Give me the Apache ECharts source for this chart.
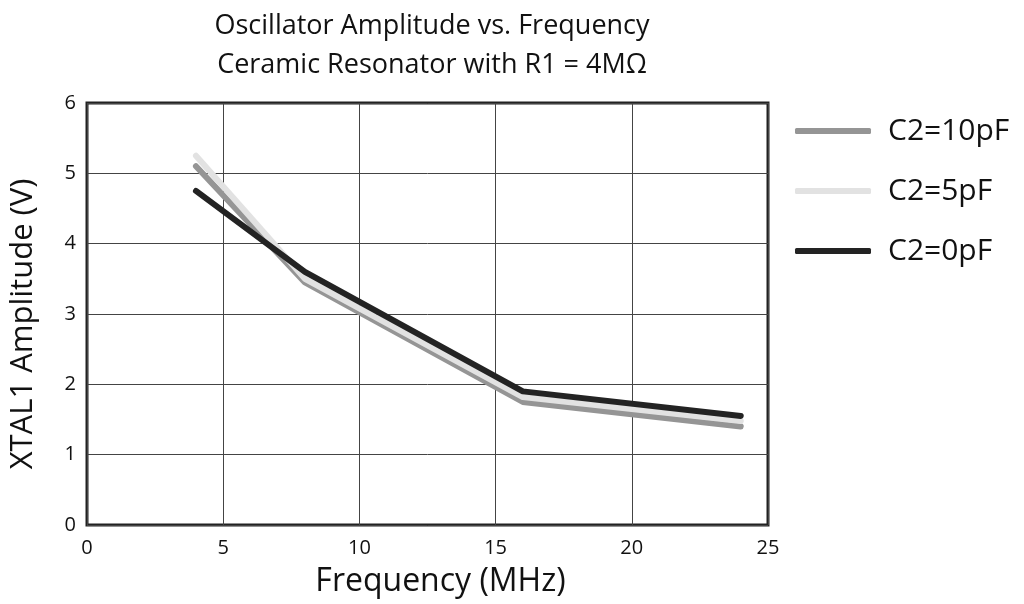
<!DOCTYPE html>
<html>
<head>
<meta charset="utf-8">
<script src="https://cdn.jsdelivr.net/npm/echarts@6/dist/echarts.min.js"></script>
<style>
html,body{margin:0;padding:0;background:#fff;}
#c{width:1024px;height:604px;}
</style>
</head>
<body>
<div id="c"></div>
<script>
var freq = [4, 8, 16, 24];
var c2_10pF = [5.1, 3.45, 1.75, 1.4];
var c2_5pF = [5.25, 3.5, 1.82, 1.48];
var c2_0pF = [4.75, 3.6, 1.9, 1.55];
var seriesNames = ['C2=10pF', 'C2=5pF', 'C2=0pF'];
var seriesColors = ['#959595', '#e2e2e2', '#232323'];
var xTicks = [0, 5, 10, 15, 20, 25];
var yTicks = [0, 1, 2, 3, 4, 5, 6];

function pairs(xs, ys){ return xs.map(function(x,i){ return [x, ys[i]]; }); }
var allData = [c2_10pF, c2_5pF, c2_0pF];

var font = '"Open Sans", "Noto Sans", sans-serif';
var chart = echarts.init(document.getElementById('c'), null, {renderer:'canvas'});
chart.setOption({
  animation:false,
  backgroundColor:'#fff',
  textStyle:{fontFamily:font},
  title:{
    text:'Oscillator Amplitude vs. Frequency\nCeramic Resonator with R1 = 4MΩ',
    left:427, top:2, textAlign:'center',
    textStyle:{fontFamily:font, fontSize:27, fontWeight:'normal', color:'#111', lineHeight:39}
  },
  legend:{
    orient:'vertical', left:790, top:111, itemGap:30,
    itemWidth:76, itemHeight:6, icon:'roundRect',
    textStyle:{fontFamily:font, fontSize:30, color:'#111', lineHeight:30, padding:[0,0,0,12]},
    data:seriesNames
  },
  grid:{left:87, right:256, top:103, bottom:79, show:true, borderColor:'#222', borderWidth:3, backgroundColor:'transparent'},
  xAxis:{
    type:'value', min:0, max:25, interval:5,
    name:'Frequency (MHz)', nameLocation:'middle', nameGap:41,
    nameTextStyle:{fontFamily:font, fontSize:32, color:'#111', padding:[0,0,0,26]},
    axisLine:{show:false}, axisTick:{show:false},
    axisLabel:{fontFamily:font, fontSize:20, color:'#111', margin:13,
      formatter:function(v){ return xTicks.indexOf(v)>=0 ? String(v) : ''; }},
    splitLine:{show:true, lineStyle:{color:'#444', width:1}}
  },
  yAxis:{
    type:'value', min:0, max:6, interval:1,
    name:'XTAL1 Amplitude (V)', nameLocation:'middle', nameGap:48,
    nameTextStyle:{fontFamily:font, fontSize:31, color:'#111', padding:[0,20,0,0]},
    axisLine:{show:false}, axisTick:{show:false},
    axisLabel:{fontFamily:font, fontSize:20, color:'#111', margin:11,
      formatter:function(v){ return yTicks.indexOf(v)>=0 ? String(v) : ''; }},
    splitLine:{show:true, lineStyle:{color:'#444', width:1}}
  },
  series: seriesNames.map(function(n,i){
    return {
      name:n, type:'line', data:pairs(freq, allData[i]),
      showSymbol:false, symbol:'none',
      itemStyle:{color:seriesColors[i]},
      lineStyle:{color:seriesColors[i], width:6, cap:'round', join:'round'},
      z: 2+i
    };
  })
});
</script>
</body>
</html>
